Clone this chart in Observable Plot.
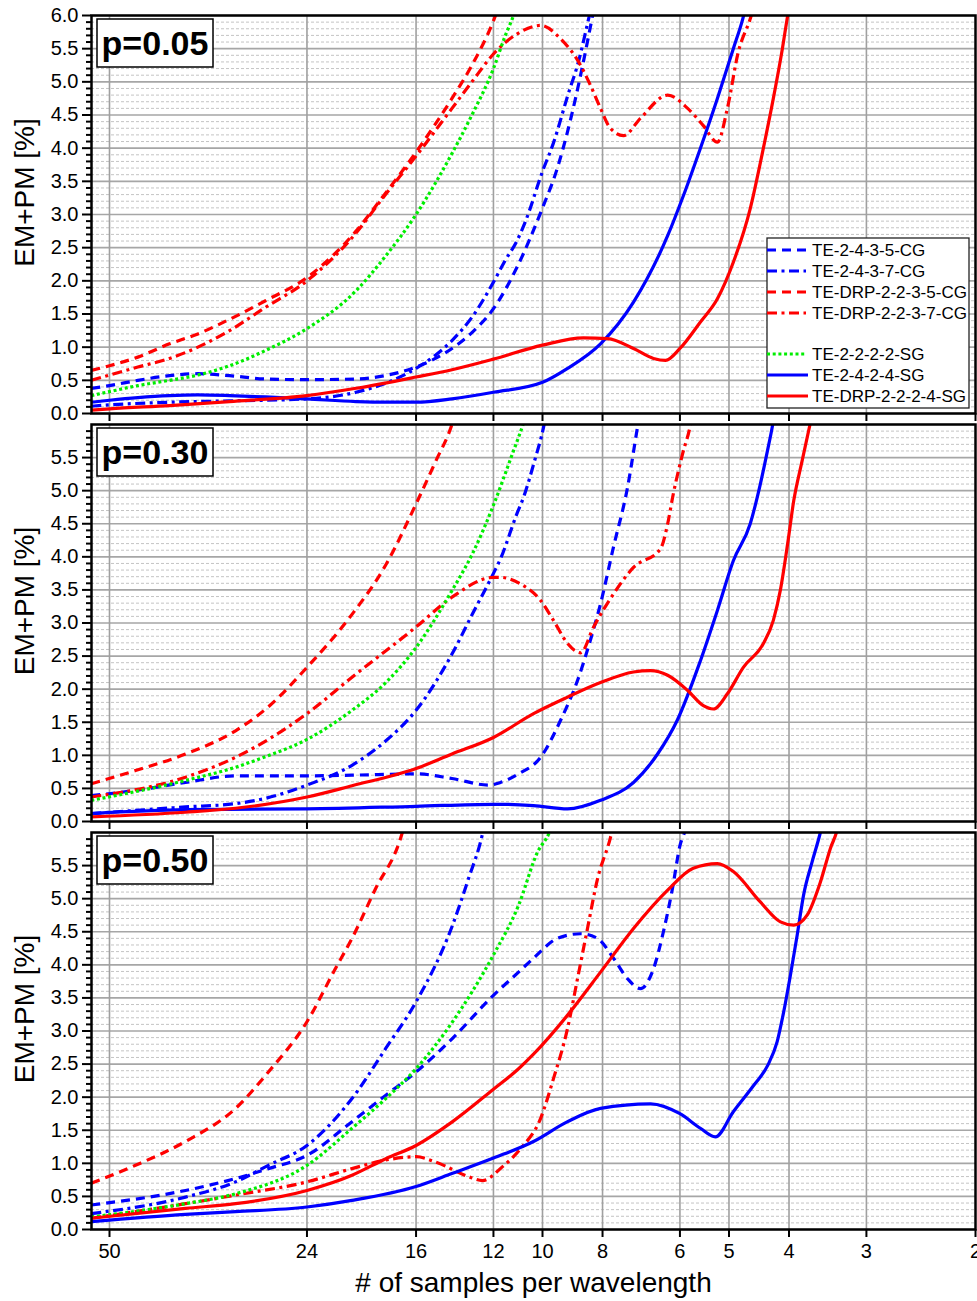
<!DOCTYPE html>
<html>
<head>
<meta charset="utf-8">
<script src="https://cdn.jsdelivr.net/npm/d3@7"></script>
<script src="https://cdn.jsdelivr.net/npm/@observablehq/plot@0.6"></script>
<style>
  html, body { margin: 0; padding: 0; background: #fff; overflow: hidden; }
  #chart { width: 977px; }
  #chart svg { display: block; overflow: visible; }
</style>
</head>
<body>
<div id="chart"></div>
<script>
// x: samples per wavelength (log scale, decreasing to the right); y: EM+PM error in percent
const xTicks = [50, 24, 16, 12, 10, 8, 6, 5, 4, 3, 2];
const yMajor = d3.range(0, 13).map(i => i / 2);
const yMinor = d3.range(1, 60).filter(i => i % 5 !== 0).map(i => i / 10);

const seriesNames = ["TE-2-4-3-5-CG", "TE-2-4-3-7-CG", "TE-DRP-2-2-3-5-CG", "TE-DRP-2-2-3-7-CG",
                     "TE-2-2-2-2-SG", "TE-2-4-2-4-SG", "TE-DRP-2-2-2-4-SG"];
const seriesColors = ["#0000ff", "#0000ff", "#ff0000", "#ff0000", "#00ee00", "#0000ff", "#ff0000"];
const seriesDash = ["9,6", "10,4.5,3,4.5", "9,6", "10,4.5,3,4.5", "3,2.7", null, null];
const panelLabels = ["p=0.05", "p=0.30", "p=0.50"];

// ---- p = 0.05 : [samples per wavelength, EM+PM %]
const p05_te2435cg = [[53.5,0.38],[50,0.42],[45,0.5],[40,0.57],[36,0.6],[32,0.57],[28,0.52],[24,0.51],[20,0.52],[18,0.57],[16,0.70],[14,0.98],[13,1.22],[12,1.58],[11,2.2],[10,3.1],[9.5,3.65],[9,4.45],[8.68,5.1],[8.3,6.0],[8.1,6.5]];
const p05_te2437cg = [[53.5,0.11],[50,0.13],[40,0.17],[32,0.19],[24,0.22],[20,0.32],[18,0.45],[16,0.68],[14,1.1],[13,1.45],[12,1.98],[11.5,2.3],[11,2.6],[10.65,2.9],[10,3.65],[9.6,4.08],[9.1,4.8],[8.75,5.3],[8.4,6.0],[8.2,6.4]];
const p05_drp2235cg = [[53.5,0.65],[50,0.72],[45,0.85],[40,1.05],[36,1.2],[32,1.42],[28,1.7],[24,2.05],[20,2.75],[18,3.3],[16,3.94],[14,4.75],[13,5.25],[12,5.92],[11.5,6.4]];
const p05_drp2237cg = [[53.5,0.5],[50,0.58],[45,0.7],[40,0.83],[36,1.0],[32,1.25],[28,1.6],[24,2.0],[20,2.72],[18,3.28],[16,3.88],[14,4.6],[13,5.0],[12,5.42],[11,5.72],[10.07,5.85],[9.35,5.65],[8.68,5.25],[8.37,4.95],[8.06,4.6],[7.77,4.3],[7.4,4.19],[6.95,4.45],[6.28,4.8],[5.83,4.6],[5.5,4.34],[5.22,4.09],[5.03,4.6],[4.83,5.45],[4.62,5.95],[4.5,6.3]];
const p05_te2222sg = [[53.5,0.27],[50,0.33],[45,0.42],[40,0.5],[36,0.58],[32,0.72],[28,0.95],[24,1.28],[20,1.85],[18,2.35],[16,3.0],[14,3.92],[13,4.5],[12,5.2],[11.48,5.7],[11.14,6.0],[10.9,6.3]];
const p05_te2424sg = [[53.5,0.17],[50,0.2],[45,0.24],[40,0.27],[36,0.28],[32,0.27],[28,0.25],[24,0.22],[20,0.18],[18,0.17],[16,0.17],[14,0.22],[12,0.32],[10,0.47],[9.11,0.68],[8.06,1.05],[7.13,1.68],[6.28,2.68],[5.92,3.29],[5.56,4.0],[5.22,4.75],[4.92,5.5],[4.75,5.95],[4.65,6.3]];
const p05_drp2224sg = [[53.5,0.05],[50,0.07],[40,0.12],[32,0.18],[24,0.27],[20,0.38],[16,0.55],[14,0.66],[12,0.82],[10,1.03],[8.59,1.14],[7.85,1.13],[7.13,0.98],[6.62,0.83],[6.33,0.8],[6.0,0.98],[5.56,1.38],[5.22,1.73],[4.92,2.28],[4.62,3.09],[4.40,4.0],[4.24,4.75],[4.10,5.5],[4.02,6.0],[3.95,6.4]];

// ---- p = 0.30
const p30_te2435cg = [[53.5,0.39],[45.4,0.47],[37.7,0.59],[31.3,0.69],[24,0.69],[20.3,0.7],[16,0.72],[14,0.65],[12.22,0.55],[11.69,0.59],[10.93,0.72],[10.07,0.97],[9.35,1.53],[8.78,2.13],[8.37,2.74],[8.06,3.29],[7.68,4.15],[7.29,5.05],[7.02,5.98],[6.9,6.4]];
const p30_te2437cg = [[53.5,0.12],[37.7,0.22],[31.3,0.27],[28,0.35],[24,0.55],[20.3,0.85],[17.9,1.22],[16,1.68],[14,2.53],[12.97,3.14],[12,3.75],[11.69,3.97],[11,4.65],[10.73,4.9],[10.3,5.45],[9.96,5.96],[9.8,6.3]];
const p30_drp2235cg = [[53.5,0.57],[45.4,0.77],[37.7,1.02],[31.3,1.37],[27.5,1.76],[24,2.33],[20.3,3.13],[17.9,3.88],[16,4.8],[14.88,5.44],[14,6.0],[13.6,6.4]];
const p30_drp2237cg = [[53.5,0.37],[37.7,0.67],[31.3,0.97],[24,1.63],[20.3,2.18],[16,2.94],[14,3.39],[12,3.69],[11.69,3.69],[10.85,3.59],[10.07,3.34],[9.6,3.04],[9.11,2.69],[8.68,2.55],[8.27,2.94],[7.68,3.44],[7.13,3.84],[6.45,4.12],[6.28,4.5],[6.15,4.95],[5.94,5.56],[5.77,6.0],[5.7,6.3]];
const p30_te2222sg = [[53.5,0.32],[37.7,0.62],[31.3,0.82],[28,0.98],[24,1.24],[20.3,1.68],[17.9,2.1],[16,2.63],[14,3.49],[12.97,4.05],[12,4.78],[11.18,5.56],[10.75,6.0],[10.5,6.3]];
const p30_te2424sg = [[53.5,0.12],[37.7,0.18],[24,0.19],[16,0.23],[12,0.26],[11.69,0.26],[10.34,0.24],[9.11,0.19],[8.06,0.32],[7.13,0.59],[6.52,1.02],[6.06,1.53],[5.56,2.43],[5.22,3.19],[4.92,3.94],[4.62,4.5],[4.45,5.1],[4.33,5.62],[4.25,6.0],[4.2,6.3]];
const p30_drp2224sg = [[53.5,0.07],[37.7,0.14],[31.3,0.2],[24,0.37],[20.3,0.54],[16,0.8],[14,1.02],[12,1.27],[10.34,1.63],[9.11,1.88],[8.06,2.1],[7.13,2.26],[6.69,2.28],[6.28,2.21],[5.83,1.98],[5.5,1.75],[5.30,1.70],[5.03,1.93],[4.74,2.33],[4.40,2.69],[4.24,3.04],[4.13,3.5],[4.02,4.2],[3.93,4.85],[3.81,5.45],[3.70,6.0],[3.62,6.4]];

// ---- p = 0.50
const p50_te2435cg = [[53.5,0.37],[37.7,0.59],[31.3,0.77],[27.7,0.92],[24,1.12],[20.3,1.63],[17.9,2.03],[16,2.38],[13.97,2.89],[12,3.54],[10.93,3.89],[10.34,4.1],[9.46,4.4],[8.68,4.47],[8.15,4.4],[7.68,4.1],[7.29,3.79],[6.95,3.64],[6.62,3.94],[6.38,4.5],[6.17,5.15],[6.0,5.8],[5.88,6.06],[5.8,6.4]];
const p50_te2437cg = [[53.5,0.24],[37.7,0.49],[31.3,0.72],[27.7,0.97],[24,1.27],[20.3,1.98],[17.9,2.74],[16,3.44],[13.97,4.6],[13.17,5.3],[12.5,5.98],[12.3,6.3]];
const p50_drp2235cg = [[53.5,0.7],[45.4,0.97],[37.7,1.33],[31.3,1.83],[27.7,2.38],[24,3.14],[21.6,3.94],[20.3,4.4],[18.6,5.15],[16.95,5.91],[16.6,6.2]];
const p50_drp2237cg = [[53.5,0.17],[37.7,0.39],[31.3,0.52],[24,0.72],[20.3,0.92],[17.9,1.05],[16,1.1],[14.88,1.02],[13.17,0.8],[12.5,0.74],[11.6,0.95],[10.85,1.22],[10.07,1.68],[9.6,2.28],[9.11,3.04],[8.78,3.79],[8.46,4.55],[8.15,5.3],[7.77,5.92],[7.6,6.3]];
const p50_te2222sg = [[53.5,0.19],[37.7,0.39],[31.3,0.54],[24,0.97],[20.3,1.53],[17.9,1.98],[16,2.43],[13.97,3.14],[12,4.15],[10.93,4.9],[10.19,5.7],[9.75,6.0],[9.5,6.3]];
const p50_te2424sg = [[53.5,0.12],[37.7,0.23],[31.3,0.27],[24,0.34],[20.3,0.44],[16,0.65],[13.97,0.85],[12,1.08],[10.34,1.33],[9.11,1.63],[8.06,1.83],[6.69,1.9],[6.0,1.75],[5.56,1.53],[5.26,1.4],[4.92,1.78],[4.56,2.18],[4.33,2.48],[4.18,2.84],[4.08,3.29],[3.98,3.84],[3.88,4.45],[3.79,5.05],[3.67,5.56],[3.56,6.0],[3.5,6.3]];
const p50_drp2224sg = [[53.5,0.17],[37.7,0.32],[31.3,0.39],[24,0.59],[20.3,0.82],[17.9,1.07],[16,1.27],[13.97,1.63],[12,2.12],[10.93,2.43],[10.34,2.65],[9.11,3.24],[8.06,3.89],[7.13,4.55],[6.28,5.13],[5.71,5.46],[5.22,5.53],[4.92,5.41],[4.45,4.95],[4.13,4.65],[3.93,4.6],[3.74,4.75],[3.56,5.25],[3.43,5.76],[3.34,6.06],[3.3,6.3]];

const panelSeries = [
  [p05_te2435cg, p05_te2437cg, p05_drp2235cg, p05_drp2237cg, p05_te2222sg, p05_te2424sg, p05_drp2224sg],
  [p30_te2435cg, p30_te2437cg, p30_drp2235cg, p30_drp2237cg, p30_te2222sg, p30_te2424sg, p30_drp2224sg],
  [p50_te2435cg, p50_te2437cg, p50_drp2235cg, p50_drp2237cg, p50_te2222sg, p50_te2424sg, p50_drp2224sg]
];

const FONT = "'Liberation Sans', Arial, Helvetica, sans-serif";
const frameH = [398, 397, 397];
const mTop = [15, 5, 5];
const mBottom = [6, 6, 72];

function panel(i) {
  const last = i === 2;
  const yLabelTicks = i === 0 ? yMajor : yMajor.filter(v => v < 6);
  const lines = panelSeries[i].map((data, k) => Plot.line(data, {
    stroke: seriesColors[k],
    strokeWidth: 3.2,
    strokeDasharray: seriesDash[k] || undefined,
    strokeLinecap: "butt",
    strokeLinejoin: "round",
    curve: "monotone-x",
    clip: true
  }));
  const svg = Plot.plot({
    width: 977,
    height: frameH[i] + mTop[i] + mBottom[i],
    marginLeft: 91,
    marginRight: 2,
    marginTop: mTop[i],
    marginBottom: mBottom[i],
    style: {fontFamily: FONT, fontSize: "20px", background: "transparent", overflow: "visible", color: "black"},
    x: {type: "log", domain: [53.46, 2]},
    y: {domain: [0, 6]},
    marks: [
      Plot.gridY(yMinor, {stroke: "#c4c4c4", strokeOpacity: 1, strokeDasharray: "3,2", strokeWidth: 1}),
      Plot.gridY(yMajor, {stroke: "#a6a6a6", strokeOpacity: 1, strokeWidth: 1.6}),
      Plot.gridX(xTicks.filter(v => v !== 2), {stroke: "#a0a0a0", strokeOpacity: 1, strokeWidth: 1.6}),
      ...lines,
      Plot.frame({stroke: "black", strokeWidth: 2.5}),
      Plot.axisY(yMinor, {tickSize: 5, strokeWidth: 2, tickFormat: () => "", label: null}),
      Plot.axisY(yLabelTicks, {tickSize: 9, tickPadding: 4, strokeWidth: 2, tickFormat: d3.format(".1f"), label: null}),
      Plot.axisX(xTicks, {tickSize: 8, tickPadding: 6, strokeWidth: 2,
        tickFormat: last ? (d => String(d)) : (() => ""), label: null}),
      Plot.text(["EM+PM [%]"], {frameAnchor: "left", textAnchor: "middle", lineAnchor: "middle",
        dx: -66, dy: -22, rotate: -90, fontSize: 28}),
      last ? Plot.text(["# of samples per wavelength"], {frameAnchor: "bottom", textAnchor: "middle",
        lineAnchor: "middle", dy: 54, fontSize: 28}) : null
    ]
  });

  const s = d3.select(svg);
  // panel label box in the upper-left corner
  const top = mTop[i];
  s.append("rect").attr("x", 97).attr("y", top + 4).attr("width", 116).attr("height", 48)
    .attr("fill", "white").attr("stroke", "black").attr("stroke-width", 1.5);
  s.append("text").attr("x", 155).attr("y", top + 28).attr("text-anchor", "middle")
    .attr("dominant-baseline", "central").attr("font-family", FONT).attr("font-weight", "bold")
    .attr("font-size", 34).attr("fill", "black").text(panelLabels[i]);

  if (i === 0) {
    // series legend, lower right of the first panel
    const g = s.append("g");
    g.append("rect").attr("x", 767).attr("y", 238).attr("width", 202).attr("height", 170)
      .attr("fill", "white").attr("stroke", "#222").attr("stroke-width", 1.3);
    const rowY = [250, 271, 292, 313, 354, 375, 396];
    seriesNames.forEach((name, k) => {
      g.append("line").attr("x1", 767).attr("x2", seriesDash[k] ? 806 : 808)
        .attr("y1", rowY[k]).attr("y2", rowY[k])
        .attr("stroke", seriesColors[k]).attr("stroke-width", 3.2)
        .attr("stroke-dasharray", seriesDash[k] || null);
      g.append("text").attr("x", 812).attr("y", rowY[k]).attr("dominant-baseline", "central")
        .attr("text-anchor", "start")
        .attr("font-family", FONT).attr("font-size", 17).attr("fill", "black").text(name);
    });
  }
  return svg;
}

const chart = document.getElementById("chart");
for (let i = 0; i < 3; ++i) chart.appendChild(panel(i));
</script>
</body>
</html>
